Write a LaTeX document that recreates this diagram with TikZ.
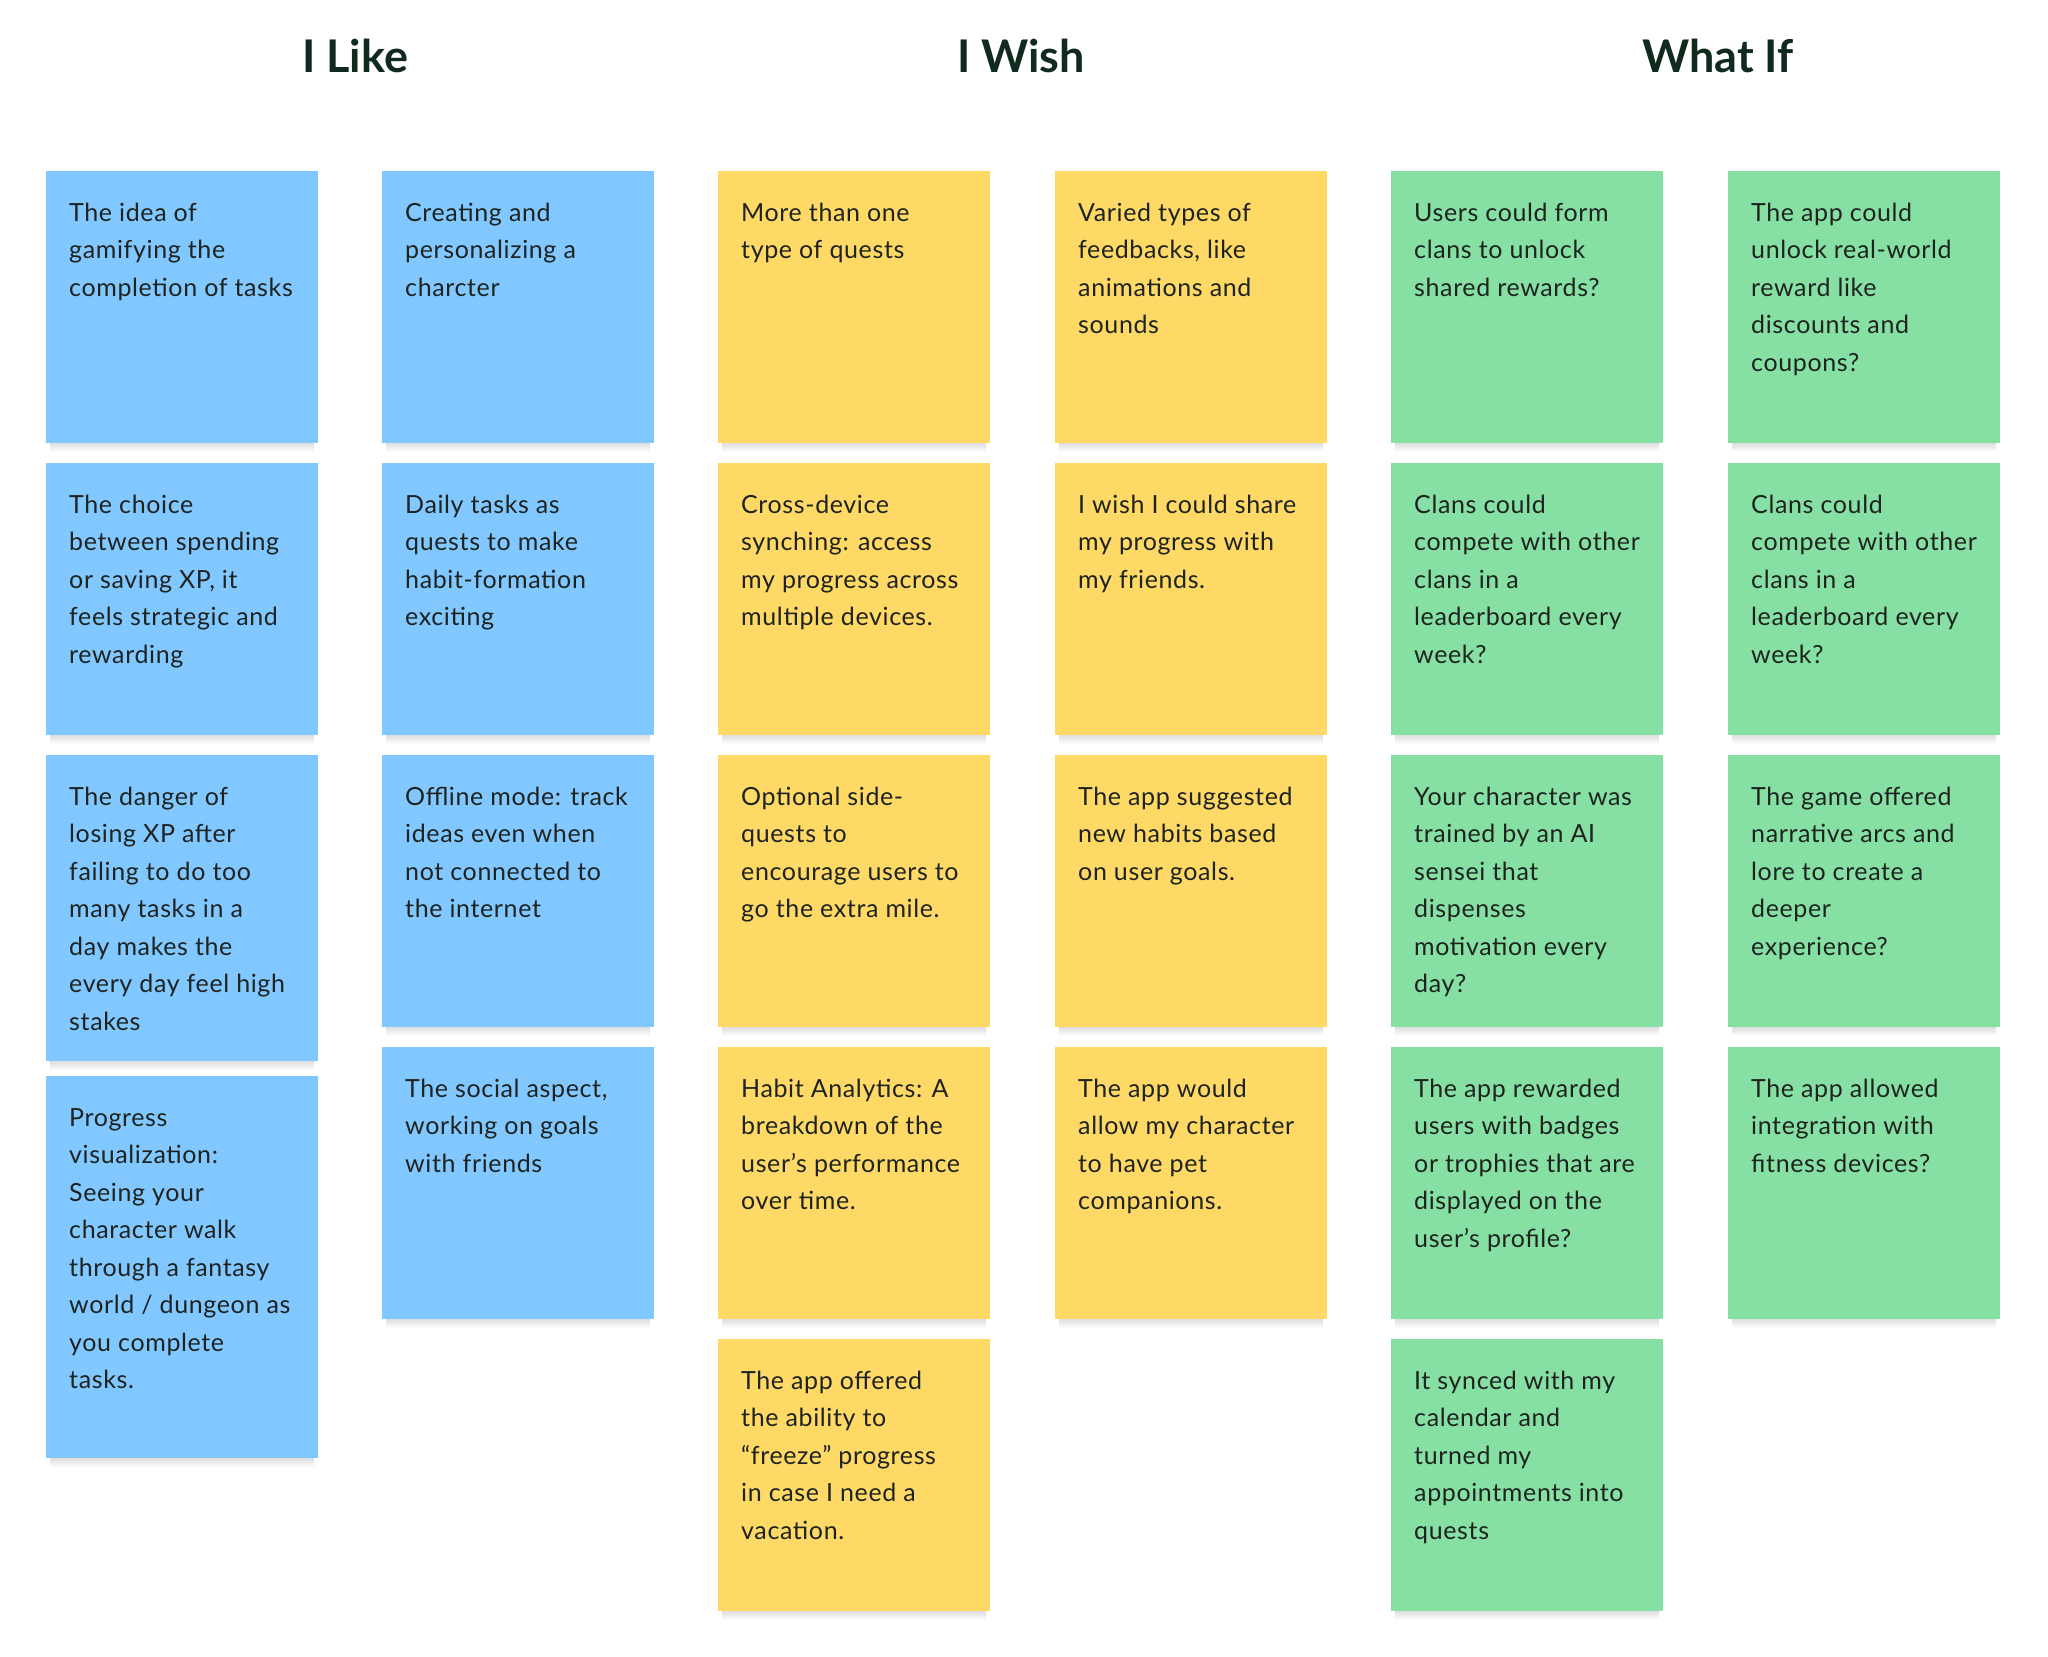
\documentclass[tikz,border=0pt]{standalone}
\usepackage{fontspec}
\setmainfont{Lato}
\newfontfamily\notefont[LetterSpace=2.5]{Lato}
\definecolor{nblue}{HTML}{80C8FF}
\definecolor{nyellow}{HTML}{FFD966}
\definecolor{ngreen}{HTML}{86E0A3}
\definecolor{ntext}{HTML}{1E2320}
\definecolor{ntitle}{HTML}{102A1E}
\tikzset{
  sticky/.style={rectangle, anchor=north west, inner sep=0pt, minimum width=272pt, draw=none},
  stickyshadow/.style={top color=black!16, bottom color=white, draw=none},
  stickytext/.style={anchor=base west, inner sep=0pt, text=ntext},
  coltitle/.style={anchor=base, inner sep=0pt, text=ntitle, font=\fontsize{45}{50}\selectfont\bfseries}
}
\newcommand{\mynote}[6]{%
  \shade[stickyshadow] (#2+4,#3+#4-2) rectangle (#2+268,#3+#4+9);
  \node[sticky, fill=#5, minimum height=#4pt] (#1) at (#2,#3) {};
  \node[stickytext] (#1t) at ([xshift=23pt, yshift=-50pt]#1.north west)
    {\parbox[t]{250pt}{\raggedright\notefont\fontsize{25}{37.5}\selectfont #6}};
}
\begin{document}
\begin{tikzpicture}[x=1pt,y=-1pt]
\useasboundingbox (0,0) rectangle (2048,1657);
\fill[white] (0,0) rectangle (2048,1657);
\node[coltitle] (tlike) at (355,72.7) {I Like};
\node[coltitle] (twish) at (1021,72.7) {I Wish};
\node[coltitle] (twhat) at (1718,72.7) {What If};
% column 1
\mynote{a1}{46}{171}{272}{nblue}{The idea of\\gamifying the\\completion of tasks}
\mynote{a2}{46}{463}{272}{nblue}{The choice\\between spending\\or saving XP, it\\feels strategic and\\rewarding}
\mynote{a3}{46}{755}{306}{nblue}{The danger of\\losing XP after\\failing to do too\\many tasks in a\\day makes the\\every day feel high\\stakes}
\mynote{a4}{46}{1076}{382}{nblue}{Progress\\visualization:\\Seeing your\\character walk\\through a fantasy\\world / dungeon as\\you complete\\tasks.}
% column 2
\mynote{b1}{382}{171}{272}{nblue}{Creating and\\personalizing a\\charcter}
\mynote{b2}{382}{463}{272}{nblue}{Daily tasks as\\quests to make\\habit-formation\\exciting}
\mynote{b3}{382}{755}{272}{nblue}{Offline mode: track\\ideas even when\\not connected to\\the internet}
\mynote{b4}{382}{1047}{272}{nblue}{The social aspect,\\working on goals\\with friends}
% column 3
\mynote{c1}{718}{171}{272}{nyellow}{More than one\\type of quests}
\mynote{c2}{718}{463}{272}{nyellow}{Cross-device\\synching: access\\my progress across\\multiple devices.}
\mynote{c3}{718}{755}{272}{nyellow}{Optional side-\\quests to\\encourage users to\\go the extra mile.}
\mynote{c4}{718}{1047}{272}{nyellow}{Habit Analytics: A\\breakdown of the\\user’s performance\\over time.}
\mynote{c5}{718}{1339}{272}{nyellow}{The app offered\\the ability to\\“freeze” progress\\in case I need a\\vacation.}
% column 4
\mynote{d1}{1055}{171}{272}{nyellow}{Varied types of\\feedbacks, like\\animations and\\sounds}
\mynote{d2}{1055}{463}{272}{nyellow}{I wish I could share\\my progress with\\my friends.}
\mynote{d3}{1055}{755}{272}{nyellow}{The app suggested\\new habits based\\on user goals.}
\mynote{d4}{1055}{1047}{272}{nyellow}{The app would\\allow my character\\to have pet\\companions.}
% column 5
\mynote{e1}{1391}{171}{272}{ngreen}{Users could form\\clans to unlock\\shared rewards?}
\mynote{e2}{1391}{463}{272}{ngreen}{Clans could\\compete with other\\clans in a\\leaderboard every\\week?}
\mynote{e3}{1391}{755}{272}{ngreen}{Your character was\\trained by an AI\\sensei that\\dispenses\\motivation every\\day?}
\mynote{e4}{1391}{1047}{272}{ngreen}{The app rewarded\\users with badges\\or trophies that are\\displayed on the\\user’s profile?}
\mynote{e5}{1391}{1339}{272}{ngreen}{It synced with my\\calendar and\\turned my\\appointments into\\quests}
% column 6
\mynote{f1}{1728}{171}{272}{ngreen}{The app could\\unlock real-world\\reward like\\discounts and\\coupons?}
\mynote{f2}{1728}{463}{272}{ngreen}{Clans could\\compete with other\\clans in a\\leaderboard every\\week?}
\mynote{f3}{1728}{755}{272}{ngreen}{The game offered\\narrative arcs and\\lore to create a\\deeper\\experience?}
\mynote{f4}{1728}{1047}{272}{ngreen}{The app allowed\\integration with\\fitness devices?}
\end{tikzpicture}
\end{document}
